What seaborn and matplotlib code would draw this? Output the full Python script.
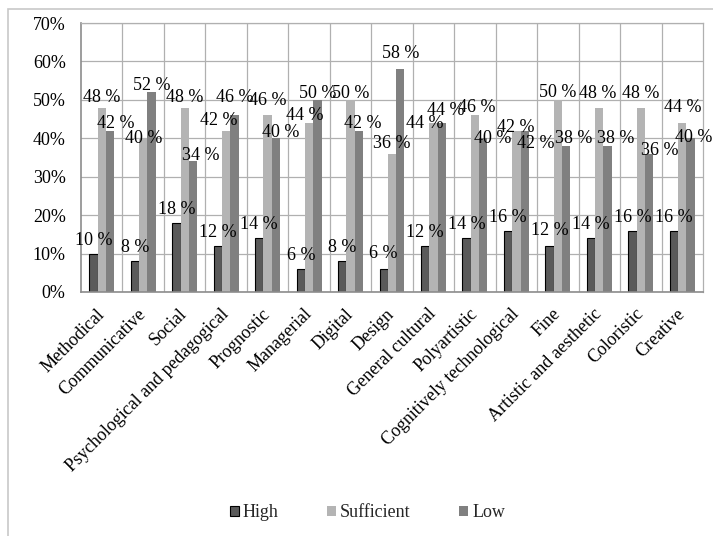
import pandas as pd
import seaborn as sns
import matplotlib.pyplot as plt
from matplotlib.ticker import FuncFormatter, MultipleLocator
from matplotlib.patches import Rectangle

# data (percent of respondents per level)
competences = ['Methodical', 'Communicative', 'Social', 'Psychological and pedagogical',
               'Prognostic', 'Managerial', 'Digital', 'Design', 'General cultural',
               'Polyartistic', 'Cognitively technological', 'Fine',
               'Artistic and aesthetic', 'Coloristic', 'Creative']
levels = ['High', 'Sufficient', 'Low']
high = [10, 8, 18, 12, 14, 6, 8, 6, 12, 14, 16, 12, 14, 16, 16]
sufficient = [48, 40, 48, 42, 46, 44, 50, 36, 44, 46, 42, 50, 48, 48, 44]
low = [42, 52, 34, 46, 40, 50, 42, 58, 44, 40, 42, 38, 38, 36, 40]

df = pd.DataFrame({'Competence': competences, 'High': high,
                   'Sufficient': sufficient, 'Low': low})
long_df = df.melt(id_vars='Competence', value_vars=levels,
                  var_name='Level', value_name='Percent')

sns.set_theme(style='white')
plt.rcParams['font.family'] = ['Liberation Serif', 'DejaVu Serif']

COLORS = {'High': '#5a5a5a', 'Sufficient': '#b4b4b4', 'Low': '#808080'}
FS = 13

# label nudges in pixels (dx right, dy up) - copies how Excel shoved the labels around
NUDGE = {
    ('Methodical', 'Sufficient'): (0, -3), ('Methodical', 'Low'): (6, -6),
    ('Communicative', 'Sufficient'): (0, -14), ('Communicative', 'Low'): (0, -7),
    ('Social', 'Sufficient'): (0, -3), ('Social', 'Low'): (8, -8),
    ('Psychological and pedagogical', 'Sufficient'): (-7, -3),
    ('Psychological and pedagogical', 'Low'): (0, 4),
    ('Prognostic', 'Sufficient'): (0, 1), ('Prognostic', 'Low'): (5, -8),
    ('Managerial', 'Sufficient'): (-4, -6), ('Managerial', 'Low'): (0, -7),
    ('Digital', 'Sufficient'): (0, -7), ('Digital', 'Low'): (4, -6),
    ('Design', 'High'): (0, 2), ('Design', 'Sufficient'): (0, -3), ('Design', 'Low'): (0, 2),
    ('General cultural', 'Sufficient'): (-9, -14), ('General cultural', 'Low'): (4, -1),
    ('Polyartistic', 'Sufficient'): (2, -6), ('Polyartistic', 'Low'): (9, -14),
    ('Cognitively technological', 'Sufficient'): (-1, -10),
    ('Cognitively technological', 'Low'): (11, -26),
    ('Fine', 'High'): (0, 2), ('Fine', 'Sufficient'): (0, -6), ('Fine', 'Low'): (8, -6),
    ('Artistic and aesthetic', 'Sufficient'): (-2, 1), ('Artistic and aesthetic', 'Low'): (8, -6),
    ('Coloristic', 'Sufficient'): (0, 1), ('Coloristic', 'Low'): (11, -10),
    ('Creative', 'Sufficient'): (0, 2), ('Creative', 'Low'): (3, -13),
}

fig = plt.figure(figsize=(7.13, 5.36), dpi=100)
ax = fig.add_axes([81 / 713, 1 - 292 / 536, 622 / 713, 269 / 536])

sns.barplot(data=long_df, x='Competence', y='Percent', hue='Level',
            hue_order=levels, palette=COLORS, width=0.6, gap=0,
            saturation=1, ax=ax, legend=True)

for cont, lvl in zip(ax.containers, levels):
    for comp, bar in zip(competences, cont):
        if lvl == 'High':
            bar.set_edgecolor('black')
            bar.set_linewidth(0.8)
        else:
            bar.set_linewidth(0)
        dx, dy = NUDGE.get((comp, lvl), (0, 0))
        ax.annotate(f'{int(round(bar.get_height()))} %',
                    (bar.get_x() + bar.get_width() / 2, bar.get_height()),
                    xytext=(dx * 0.72, 3.5 + dy * 0.72), textcoords='offset points',
                    ha='center', va='bottom', fontsize=FS, color='black')

ax.set_ylim(0, 70)
ax.set_xlim(-0.5, len(competences) - 0.5)
ax.yaxis.set_major_locator(MultipleLocator(10))
ax.yaxis.set_major_formatter(FuncFormatter(lambda v, p: f'{v:.0f}%'))

# Excel-like grid: horizontal lines and category separators
ax.set_axisbelow(True)
ax.grid(axis='y', color='#b0b0b0', linewidth=0.9)
for x in range(len(competences) - 1):
    ax.axvline(x + 0.5, color='#b0b0b0', linewidth=0.9, zorder=0)

for side in ['left', 'bottom']:
    ax.spines[side].set_color('#8c8c8c')
    ax.spines[side].set_linewidth(1.2)
for side in ['right', 'top']:
    ax.spines[side].set_color('#b0b0b0')
    ax.spines[side].set_linewidth(0.9)

ax.tick_params(axis='both', length=0, labelsize=FS, colors='black')
ax.tick_params(axis='y', pad=11)
ax.tick_params(axis='x', pad=14)
plt.setp(ax.get_xticklabels(), rotation=45, ha='right', va='center',
         rotation_mode='anchor')
ax.set_xlabel('')
ax.set_ylabel('')

handles, labels_ = ax.get_legend_handles_labels()
leg = ax.legend(handles, labels_, loc='center', bbox_to_anchor=(0.5155, 0.043),
                bbox_transform=fig.transFigure, ncol=3, frameon=False,
                fontsize=FS, handlelength=0.5, handleheight=0.5,
                handletextpad=0.2, columnspacing=2.7)
for h, lvl in zip(leg.legend_handles, levels):
    h.set_edgecolor('black' if lvl == 'High' else 'none')
    h.set_linewidth(0.8 if lvl == 'High' else 0)

# outer chart frame (only left/top edges visible in the source)
fig.patches.append(Rectangle((8 / 713, -0.1), 1.2, 1 - 9 / 536 + 0.1,
                             transform=fig.transFigure, fill=False,
                             edgecolor='#c8c8c8', linewidth=1.2))

fig.savefig('out.png', dpi=100)
